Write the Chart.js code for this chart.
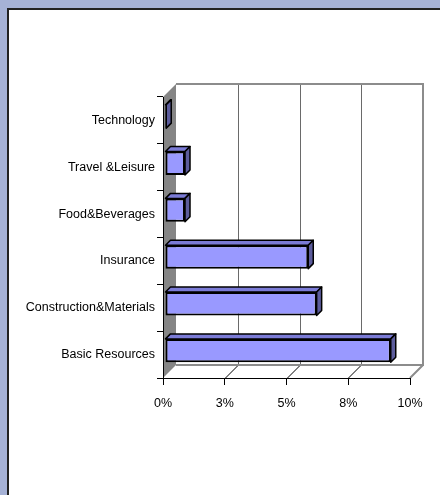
<!DOCTYPE html>
<html>
<head>
<meta charset="utf-8">
<script src="https://cdn.jsdelivr.net/npm/chart.js@4.4.0/dist/chart.umd.min.js"></script>
<style>
  html, body { margin: 0; padding: 0; }
  body { width: 440px; height: 495px; background: #a6b2d6; position: relative; overflow: hidden; }
  #panel { position: absolute; left: 7px; top: 8px; width: 450px; height: 500px; background: #fff;
           border-left: 2px solid #222; border-top: 2px solid #222; }
  #myChart { position: absolute; left: 0; top: 0; }
</style>
</head>
<body>
<div id="panel"></div>
<canvas id="myChart" width="440" height="495"></canvas>
<script>
// sectors, top to bottom as in the picture
var sectors = ["Technology", "Travel &Leisure", "Food&Beverages", "Insurance", "Construction&Materials", "Basic Resources"];
var weights = [0.05, 0.81, 0.81, 5.8, 6.14, 9.14];   // percent
var tickValues = [0, 2.5, 5, 7.5, 10];

var WALL = 13;     // depth of the 3d box
var BAR_D = 5;     // depth of each bar

// grey walls + back grid, drawn before the axes
var wallPlugin = {
    id: "walls",
    beforeDraw: function (chart) {
        var ctx = chart.ctx;
        var a = chart.chartArea;
        var xs = chart.scales.x;
        ctx.save();

        // left wall
        ctx.fillStyle = "#858585";
        ctx.beginPath();
        ctx.moveTo(a.left, a.top);
        ctx.lineTo(a.left + WALL, a.top - WALL);
        ctx.lineTo(a.left + WALL, a.bottom - WALL);
        ctx.lineTo(a.left, a.bottom);
        ctx.closePath();
        ctx.fill();

        // back wall grid lines + floor diagonals
        ctx.lineWidth = 1;
        for (var i = 1; i < tickValues.length - 1; i++) {
            var x = Math.round(xs.getPixelForValue(tickValues[i])) + 0.5;
            ctx.strokeStyle = "#6a6a6a";
            ctx.beginPath();
            ctx.moveTo(x + WALL, a.top - WALL);
            ctx.lineTo(x + WALL, a.bottom - WALL);
            ctx.stroke();
            ctx.strokeStyle = "#000000";
            ctx.beginPath();
            ctx.moveTo(x, a.bottom);
            ctx.lineTo(x + WALL, a.bottom - WALL);
            ctx.stroke();
        }

        // back wall frame, floor edges
        ctx.strokeStyle = "#8c8c8c";
        ctx.lineWidth = 2;
        ctx.beginPath();
        ctx.moveTo(a.left + WALL, a.top - WALL);
        ctx.lineTo(a.right + WALL, a.top - WALL);
        ctx.lineTo(a.right + WALL, a.bottom - WALL);
        ctx.lineTo(a.left + WALL, a.bottom - WALL);
        ctx.moveTo(a.right + WALL, a.bottom - WALL);
        ctx.lineTo(a.right, a.bottom);
        ctx.stroke();
        ctx.restore();
    }
};

// shift bars a bit into the box and add top / side faces
var barPlugin = {
    id: "bar3d",
    beforeDatasetsDraw: function (chart) {
        chart.ctx.save();
        chart.ctx.translate(2, -4);
    },
    afterDatasetsDraw: function (chart) {
        var ctx = chart.ctx;
        var bars = chart.getDatasetMeta(0).data;
        ctx.lineWidth = 1.5;
        ctx.strokeStyle = "#000000";
        ctx.lineJoin = "round";
        for (var i = 0; i < bars.length; i++) {
            var b = bars[i];
            var top = b.y - b.height / 2;
            var bottom = b.y + b.height / 2;
            var left = b.base;
            var right = b.x;

            ctx.fillStyle = "#7b7bd6";
            ctx.beginPath();
            ctx.moveTo(left, top);
            ctx.lineTo(left + BAR_D, top - BAR_D);
            ctx.lineTo(right + BAR_D, top - BAR_D);
            ctx.lineTo(right, top);
            ctx.closePath();
            ctx.fill();
            ctx.stroke();

            ctx.fillStyle = "#5c5c9c";
            ctx.beginPath();
            ctx.moveTo(right, top);
            ctx.lineTo(right + BAR_D, top - BAR_D);
            ctx.lineTo(right + BAR_D, bottom - BAR_D);
            ctx.lineTo(right, bottom);
            ctx.closePath();
            ctx.fill();
            ctx.stroke();
        }
        ctx.restore();
    }
};

var labelFont = { family: "'Liberation Sans', Arial, sans-serif", size: 12.5 };

var config = {
    type: "bar",
    data: {
        labels: sectors,
        datasets: [{
            data: weights,
            backgroundColor: "#9999ff",
            borderColor: "#000000",
            borderWidth: 2,
            borderSkipped: false,
            categoryPercentage: 1,
            barPercentage: 0.5
        }]
    },
    options: {
        indexAxis: "y",
        responsive: false,
        animation: false,
        devicePixelRatio: 1,
        layout: { padding: { left: 13, top: 97, right: 30, bottom: 77 } },
        plugins: {
            legend: { display: false },
            tooltip: { enabled: false }
        },
        scales: {
            x: {
                min: 0,
                max: 10,
                afterBuildTicks: function (s) {
                    s.ticks = tickValues.map(function (v) { return { value: v }; });
                },
                afterFit: function (s) { s.height = 40; },
                grid: { drawOnChartArea: false, tickLength: 7, color: "#000000" },
                border: { color: "#000000" },
                ticks: {
                    color: "#000000",
                    font: labelFont,
                    padding: 11,
                    maxRotation: 0,
                    autoSkip: false,
                    callback: function (v) { return Math.round(v) + "%"; }
                }
            },
            y: {
                afterFit: function (s) { s.width = 150; },
                grid: { drawOnChartArea: false, tickLength: 6, color: "#000000", offset: true },
                border: { color: "#000000" },
                ticks: { color: "#000000", font: labelFont, padding: 2, autoSkip: false }
            }
        }
    },
    plugins: [wallPlugin, barPlugin]
};

var myChart = new Chart(document.getElementById("myChart"), config);
</script>
</body>
</html>
